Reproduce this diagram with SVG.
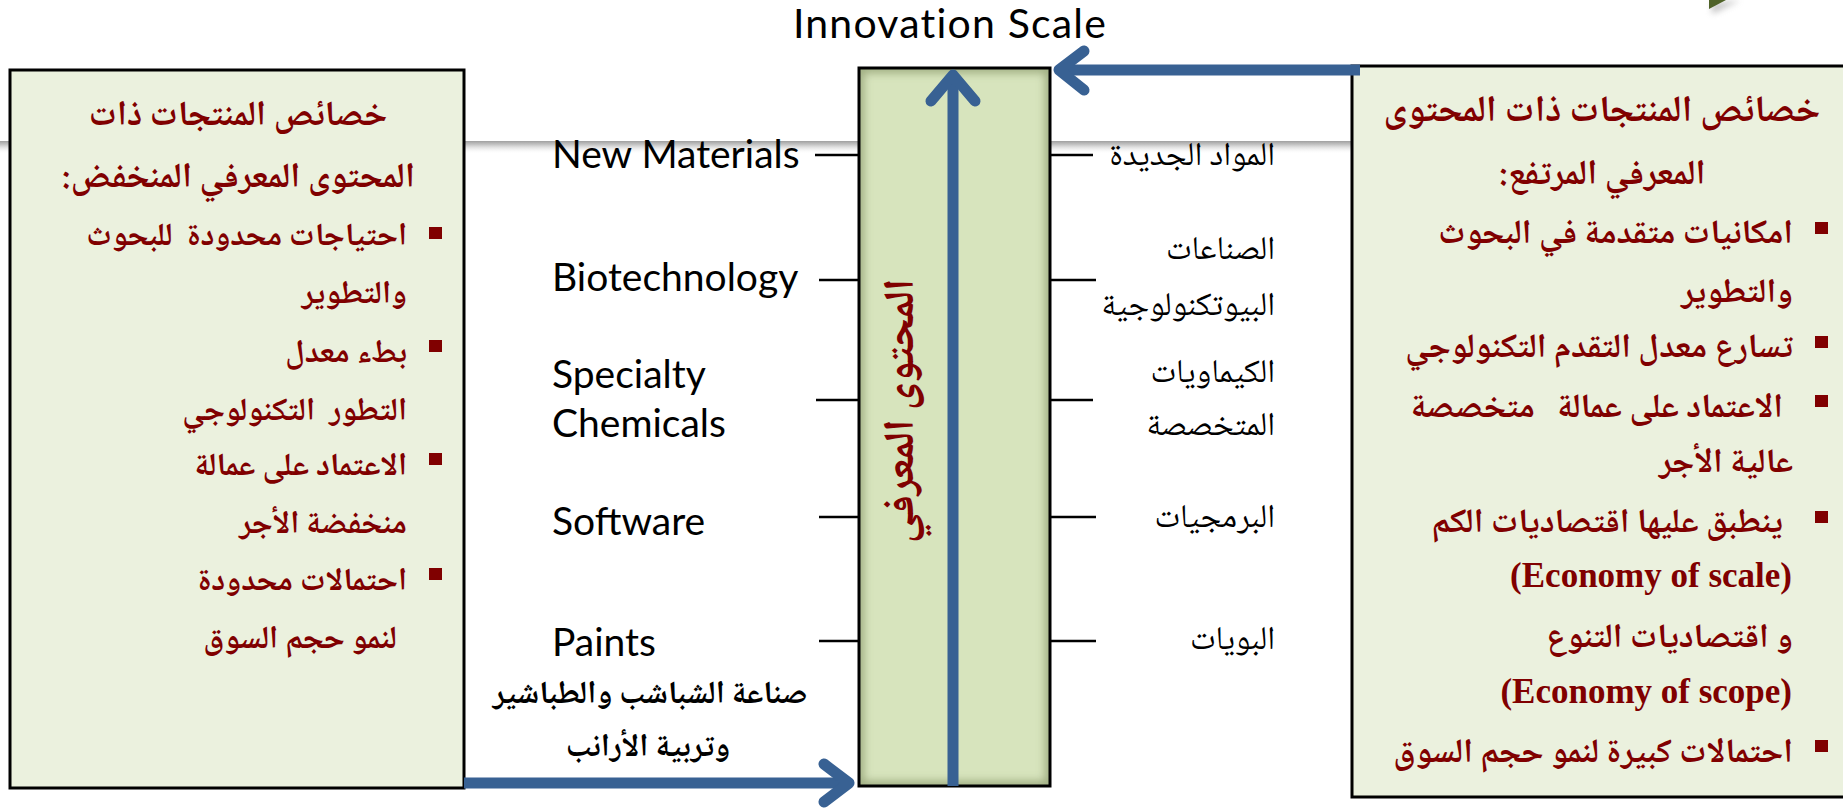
<svg xmlns="http://www.w3.org/2000/svg" width="1843" height="809" viewBox="0 0 1843 809">
<defs>
<style>
.en{font-family:Lato,"Liberation Sans",sans-serif;fill:#000;font-size:39px}
.ar{font-family:"Noto Naskh Arabic","Noto Sans Arabic","DejaVu Sans",sans-serif;white-space:pre}
.rtl{direction:rtl;text-anchor:start}
.mid{text-anchor:middle}
.red{fill:#800000;font-weight:bold;font-size:32px}
.rb{font-size:34px}
.ttl{font-size:35px}
.ttl2{font-size:37px}
.vert{font-size:43px}
.lbl{fill:#000;font-size:33px}
.blk{fill:#000;font-weight:bold;font-size:32px}
.box{fill:#EBF1DE;stroke:#000;stroke-width:3}
.tick{stroke:#000;stroke-width:2.5;fill:none}
.head{stroke:#386193;stroke-width:11;fill:none;stroke-linecap:round;stroke-linejoin:round}
.shaft{stroke:#386193;stroke-width:11;fill:none}
.bul{fill:#800000}
.ser{font-family:"Liberation Serif","Times New Roman",serif;font-weight:bold;fill:#800000;font-size:35px;text-anchor:end}
.big{font-size:41px;letter-spacing:1.2px}
</style>
<linearGradient id="gl" x1="0" y1="0" x2="0" y2="1">
<stop offset="0" stop-color="#a0a0a0"/>
<stop offset="0.3" stop-color="#c8c8c8"/>
<stop offset="1" stop-color="#ffffff" stop-opacity="0"/>
</linearGradient>
<filter id="blur" x="-20%" y="-20%" width="140%" height="140%"><feGaussianBlur stdDeviation="4"/></filter>
<filter id="sh" x="-50%" y="-50%" width="200%" height="200%"><feGaussianBlur stdDeviation="3"/></filter>
<clipPath id="barclip"><rect x="859" y="68" width="191" height="718"/></clipPath>
</defs>

<g id="background">
<rect x="0" y="141" width="1360" height="13" fill="url(#gl)"/>
<polygon points="1712,4 1740,0 1712,14" fill="#999" opacity="0.6" filter="url(#sh)"/>
<polygon points="1709,0 1726,0 1709,9" fill="#4F6228"/>
</g>

<g id="title">
<text class="en big" x="950" y="38" text-anchor="middle">Innovation Scale</text>
</g>

<g id="low-box">
<rect class="box" x="10" y="70" width="454" height="718"/>
<text class="ar red ttl rtl mid" x="238" y="125">خصائص المنتجات ذات</text>
<text class="ar red ttl rtl mid" x="238" y="187">المحتوى المعرفي المنخفض:</text>
<rect class="bul" x="429" y="227" width="13" height="12"/>
<text class="ar red rtl" x="407" y="245" xml:space="preserve">احتياجات محدودة  للبحوث</text>
<text class="ar red rtl" x="407" y="303">والتطوير</text>
<rect class="bul" x="429" y="340" width="13" height="12"/>
<text class="ar red rtl" x="407" y="362">بطء معدل</text>
<text class="ar red rtl" x="407" y="420" xml:space="preserve">التطور  التكنولوجي</text>
<rect class="bul" x="429" y="453" width="13" height="12"/>
<text class="ar red rtl" x="407" y="475">الاعتماد على عمالة</text>
<text class="ar red rtl" x="407" y="533">منخفضة الأجر</text>
<rect class="bul" x="429" y="568" width="13" height="12"/>
<text class="ar red rtl" x="407" y="590">احتمالات محدودة</text>
<text class="ar red rtl" x="397" y="648">لنمو حجم السوق</text>
</g>

<g id="high-box">
<rect class="box" x="1352" y="66" width="500" height="731"/>
<text class="ar red ttl2 rtl mid" x="1602" y="121">خصائص المنتجات ذات المحتوى</text>
<text class="ar red ttl rtl mid" x="1602" y="184">المعرفي المرتفع:</text>
<rect class="bul" x="1815" y="222" width="13" height="12"/>
<text class="ar red rb rtl" x="1793" y="243">امكانيات متقدمة في البحوث</text>
<text class="ar red rb rtl" x="1793" y="302">والتطوير</text>
<rect class="bul" x="1815" y="336" width="13" height="12"/>
<text class="ar red rb rtl" x="1793" y="357">تسارع معدل التقدم التكنولوجي</text>
<rect class="bul" x="1815" y="395" width="13" height="12"/>
<text class="ar red rb rtl" x="1783" y="417" xml:space="preserve">الاعتماد على عمالة   متخصصة</text>
<text class="ar red rb rtl" x="1793" y="472">عالية الأجر</text>
<rect class="bul" x="1815" y="511" width="13" height="12"/>
<text class="ar red rb rtl" x="1783" y="532">ينطبق عليها اقتصاديات الكم</text>
<text class="ser" x="1792" y="587">(Economy of scale)</text>
<text class="ar red rb rtl" x="1793" y="647">و اقتصاديات التنوع</text>
<text class="ser" x="1792" y="703">(Economy of scope)</text>
<rect class="bul" x="1815" y="740" width="13" height="12"/>
<text class="ar red rb rtl" x="1793" y="762">احتمالات كبيرة لنمو حجم السوق</text>
</g>

<g id="knowledge-bar">
<rect x="859" y="68" width="191" height="718" fill="#D7E4BD"/>
<g clip-path="url(#barclip)">
<rect x="859" y="68" width="191" height="718" fill="none" stroke="#6f7f4f" stroke-width="10" opacity="0.55" filter="url(#blur)"/>
</g>
<rect x="859" y="68" width="191" height="718" fill="none" stroke="#000" stroke-width="3"/>
<text class="ar red vert rtl mid" transform="translate(913,411) rotate(-90)">المحتوى المعرفي</text>
</g>

<g id="english-labels" class="en">
<text x="552" y="168">New Materials</text>
<text x="552" y="291">Biotechnology</text>
<text x="552" y="388">Specialty</text>
<text x="552" y="437">Chemicals</text>
<text x="552" y="535">Software</text>
<text x="552" y="656">Paints</text>
</g>

<g id="arabic-labels" class="ar lbl">
<text class="rtl" x="1275" y="165">المواد الجديدة</text>
<text class="rtl" x="1275" y="259">الصناعات</text>
<text class="rtl" x="1275" y="315">البيوتكنولوجية</text>
<text class="rtl" x="1275" y="382">الكيماويات</text>
<text class="rtl" x="1275" y="435">المتخصصة</text>
<text class="rtl" x="1275" y="527">البرمجيات</text>
<text class="rtl" x="1275" y="649">البويات</text>
</g>

<g id="bottom-label" class="ar blk">
<text class="rtl mid" x="650" y="703">صناعة الشباشب والطباشير</text>
<text class="rtl mid" x="648" y="756">وتربية الأرانب</text>
</g>

<g id="connectors">
<line class="tick" x1="815" y1="155" x2="859" y2="155"/>
<line class="tick" x1="819" y1="280" x2="859" y2="280"/>
<line class="tick" x1="816" y1="400" x2="859" y2="400"/>
<line class="tick" x1="819" y1="517" x2="859" y2="517"/>
<line class="tick" x1="819" y1="641" x2="859" y2="641"/>
<line class="tick" x1="1050" y1="155" x2="1093" y2="155"/>
<line class="tick" x1="1050" y1="280" x2="1096" y2="280"/>
<line class="tick" x1="1050" y1="400" x2="1093" y2="400"/>
<line class="tick" x1="1050" y1="517" x2="1096" y2="517"/>
<line class="tick" x1="1050" y1="641" x2="1096" y2="641"/>
<line class="shaft" x1="953" y1="786" x2="953" y2="80"/>
<polyline class="head" points="931,101 953,75 975,101"/>
<line class="shaft" x1="1360" y1="70" x2="1064" y2="70"/>
<polyline class="head" points="1084,51 1059,70 1084,90"/>
<line class="shaft" x1="464" y1="783" x2="844" y2="783"/>
<polyline class="head" points="824,764 849,783 824,802"/>
</g>
</svg>
